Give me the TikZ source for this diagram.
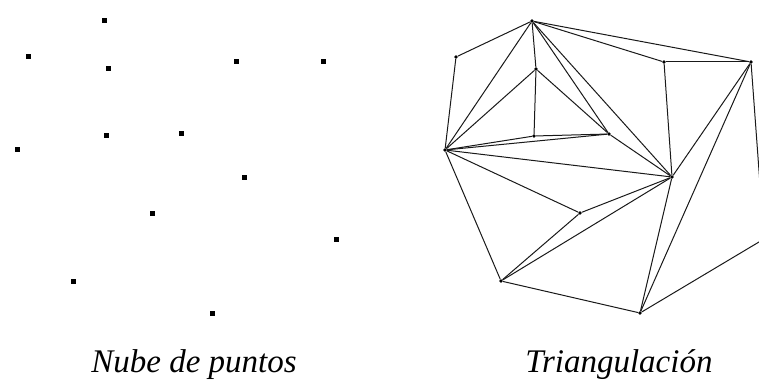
\documentclass[tikz,border=0pt]{standalone}
\usepackage{fontspec}
\setmainfont{Liberation Serif}
\usepackage{tikz}
\tikzset{
    cloudpt/.style={rectangle, fill=black, minimum size=5pt, inner sep=0pt},
    meshpt/.style={circle, fill=black, minimum size=3.6pt, inner sep=0pt},
    meshedge/.style={draw=black!90, line width=1pt},
    caption/.style={anchor=base, font=\itshape\fontsize{33}{33}\selectfont}
}

\begin{document}
\begin{tikzpicture}[x=1pt, y=-1pt]
    \useasboundingbox (0,0) rectangle (759,382);
    \clip (0,0) rectangle (759,382);

    % point cloud (left) and the same points shifted for the mesh (right)
    \foreach \p/\px/\py in {a/104/21, b/28/57, c/108/69, d/236/62, e/323/62,
        g/106/136, h/181/134, f/17/150, i/244/177, j/152/213, k/336/239,
        l/73/281, m/212/313} {
        \node[cloudpt] (cloud\p) at (\px,\py) {};
        \node[meshpt] (mesh\p) at (\px+428,\py) {};
    }

    % triangulation edges
    \foreach \u/\v in {a/b, b/f, a/f, a/c, c/g, c/f, c/h, f/g, g/h, f/h,
        a/h, a/i, h/i, a/d, a/e, d/e, d/i, e/i, e/m, e/k, i/m,
        f/i, f/j, f/l, j/i, j/l, l/i, l/m, m/k}
        \draw[meshedge] (mesh\u) -- (mesh\v);

    \node[caption] (cloudcap) at (194,372) {Nube de puntos};
    \node[caption] (meshcap) at (619,372) {Triangulación};
\end{tikzpicture}
\end{document}
